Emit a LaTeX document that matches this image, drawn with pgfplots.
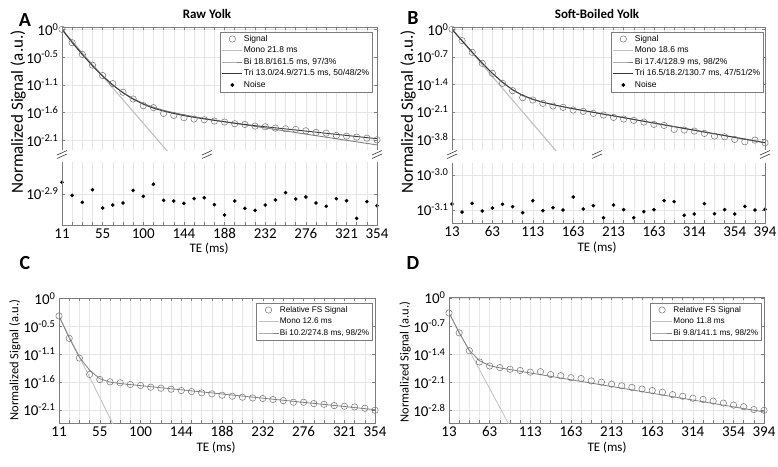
\documentclass[border=0pt]{standalone}
\usepackage{fontspec}
\setmainfont{Carlito}
\newfontfamily\legfont{Liberation Sans}
\usepackage{pgfplots}
\pgfplotsset{compat=1.18}
\definecolor{gridc}{RGB}{230,230,230}
\definecolor{axc}{RGB}{125,125,125}
\definecolor{monoc}{RGB}{192,192,192}
\definecolor{bic}{RGB}{128,128,128}
\definecolor{tric}{RGB}{55,55,55}
\definecolor{sigc}{RGB}{115,115,115}

\pgfplotsset{
  base/.style={
    scale only axis,
    xmin=1, xmax=32,
    xtick={1,5,9,13,17,21,25,29,32},
    minor xtick={1,...,32},
    xmajorgrids, xminorgrids, ymajorgrids,
    major grid style={gridc, line width=0.5pt},
    minor grid style={gridc, line width=0.5pt},
    axis line style={axc, line width=0.6pt},
    tick style={axc, line width=0.5pt},
    major tick length=3pt, minor tick length=3pt,
    tick label style={font=\fontsize{15}{15}\selectfont},
    legend cell align=left,
    legend style={font=\legfont\fontsize{8.5}{9}\selectfont, draw=axc, line width=0.5pt,
      fill=white, inner sep=1.5pt, row sep=1pt,
      nodes={inner sep=1pt, text height=6.5pt, text depth=2pt}},
    legend image code/.code={\draw[mark repeat=2,mark phase=2,##1] plot coordinates {(0pt,0pt) (10pt,0pt) (20pt,0pt)};},
  },
  sig/.style={only marks, mark=o, mark size=3.2pt, mark options={draw=sigc, line width=0.5pt}},
  noise/.style={only marks, mark=*, mark size=1.6pt, mark options={fill=black, draw=black}},
  mono/.style={monoc, line width=1.1pt, no marks},
  bi/.style={bic, line width=0.9pt, no marks},
  tri/.style={tric, line width=0.9pt, no marks},
}
\newcommand{\brk}[2]{%
  \draw[tric, line width=0.6pt] (#1-5pt,#2-1pt) -- (#1+5pt,#2+3.5pt);
  \draw[tric, line width=0.6pt] (#1-5pt,#2-4.5pt) -- (#1+5pt,#2);}

\begin{document}
\begin{tikzpicture}
\path[use as bounding box] (0pt,0pt) rectangle (778pt,-466pt);

% ===== Panel A: upper =====
\begin{axis}[base, name=A1, at={(62pt,-27pt)}, anchor=north west,
  width=315pt, height=123pt, ymin=-2.28, ymax=0.044,
  xtick pos=right, xticklabels={},
  axis line style={draw=none},
  ytick={0,-0.525,-1.05,-1.575,-2.1},
  yticklabels={10\textsuperscript{0},10\textsuperscript{-0.5},10\textsuperscript{-1.1},10\textsuperscript{-1.6},10\textsuperscript{-2.1}},
  legend style={at={(1,1)}, anchor=north east, xshift=-5pt, yshift=-5pt}]
\addplot[sig] coordinates {
 (1,0) (2,-0.253) (3,-0.474) (4,-0.677) (5,-0.873) (6,-1.025) (7,-1.189) (8,-1.316)
 (9,-1.442) (10,-1.480) (11,-1.588) (12,-1.626) (13,-1.670) (14,-1.695) (15,-1.708) (16,-1.733)
 (17,-1.752) (18,-1.784) (19,-1.797) (20,-1.828) (21,-1.841) (22,-1.866) (23,-1.879) (24,-1.891)
 (25,-1.917) (26,-1.948) (27,-1.961) (28,-2.005) (29,-2.018) (30,-2.037) (31,-2.056) (32,-2.087)};
\addlegendentry{Signal}
\addplot[mono] coordinates {(1,0) (12,-2.44)};
\addlegendentry{Mono 21.8 ms}
\addplot[bi] coordinates {
 (1,0) (2,-0.236) (3,-0.464) (4,-0.679) (5,-0.876) (6,-1.049) (7,-1.194) (8,-1.311)
 (9,-1.402) (10,-1.473) (11,-1.530) (12,-1.576) (13,-1.615) (14,-1.651) (15,-1.684) (16,-1.715)
 (17,-1.745) (18,-1.775) (19,-1.805) (20,-1.834) (21,-1.863) (22,-1.892) (23,-1.921) (24,-1.951)
 (25,-1.980) (26,-2.009) (27,-2.038) (28,-2.067) (29,-2.096) (30,-2.126) (31,-2.155) (32,-2.184)};
\addlegendentry{Bi 18.8/161.5 ms, 97/3\%}
\addplot[tri] coordinates {
 (1,0) (2,-0.250) (3,-0.478) (4,-0.690) (5,-0.885) (6,-1.055) (7,-1.200) (8,-1.320)
 (9,-1.415) (10,-1.490) (11,-1.545) (12,-1.590) (13,-1.630) (14,-1.663) (15,-1.693) (16,-1.720)
 (17,-1.747) (18,-1.773) (19,-1.797) (20,-1.820) (21,-1.841) (22,-1.861) (23,-1.882) (24,-1.902)
 (25,-1.923) (26,-1.943) (27,-1.964) (28,-1.984) (29,-2.005) (30,-2.025) (31,-2.046) (32,-2.066)};
\addlegendentry{Tri 13.0/24.9/271.5 ms, 50/48/2\%}
\addlegendimage{noise}
\addlegendentry{Noise}
\end{axis}

% ===== Panel A: noise =====
\begin{axis}[base, name=A2, at={(62pt,-162pt)}, anchor=north west,
  width=315pt, height=63pt, ymin=-2.9886, ymax=-2.8086,
  xtick pos=left, axis line style={draw=none},
  xticklabels={11,55,100,144,188,232,276,321,354},
  ytick={-2.9}, yticklabels={10\textsuperscript{-2.9}}]
\addplot[noise] coordinates {
 (1,-2.8667) (2,-2.9038) (3,-2.9238) (4,-2.8876) (5,-2.9400) (6,-2.9314) (7,-2.9257) (8,-2.8895)
 (9,-2.9067) (10,-2.8724) (11,-2.9181) (12,-2.9200) (13,-2.9267) (14,-2.9133) (15,-2.9105) (16,-2.9305)
 (17,-2.9600) (18,-2.9200) (19,-2.9410) (20,-2.9467) (21,-2.9314) (22,-2.9171) (23,-2.8962) (24,-2.9143)
 (25,-2.9086) (26,-2.9257) (27,-2.9352) (28,-2.9133) (29,-2.9190) (30,-2.9695) (31,-2.9219) (32,-2.9333)};
\end{axis}
\draw[axc, line width=0.6pt] (A1.south west) -- (A1.north west) -- (A1.north east) -- (A1.south east);
\draw[axc, line width=0.6pt] (A2.north west) -- (A2.south west) -- (A2.south east) -- (A2.north east);
\brk{62pt}{-154pt}\brk{207pt}{-154pt}\brk{377pt}{-154pt}

% ===== Panel B: upper =====
\begin{axis}[base, name=B1, at={(452pt,-27pt)}, anchor=north west,
  width=313pt, height=123pt, ymin=-3.07, ymax=0.059,
  xtick pos=right, xticklabels={},
  axis line style={draw=none},
  ytick={0,-0.7,-1.4,-2.1,-2.8},
  yticklabels={10\textsuperscript{0},10\textsuperscript{-0.7},10\textsuperscript{-1.4},10\textsuperscript{-2.1},10\textsuperscript{-3.8}},
  legend style={at={(1,1)}, anchor=north east, xshift=-2pt, yshift=-5pt}]
\addplot[sig] coordinates {
 (1,0) (2,-0.288) (3,-0.585) (4,-0.865) (5,-1.120) (6,-1.374) (7,-1.561) (8,-1.739)
 (9,-1.799) (10,-1.884) (11,-1.952) (12,-1.985) (13,-2.053) (14,-2.087) (15,-2.138) (16,-2.180)
 (17,-2.240) (18,-2.282) (19,-2.316) (20,-2.359) (21,-2.418) (22,-2.444) (23,-2.546) (24,-2.563)
 (25,-2.588) (26,-2.648) (27,-2.716) (28,-2.733) (29,-2.801) (30,-2.860) (31,-2.818) (32,-2.885)};
\addlegendentry{Signal}
\addplot[mono] coordinates {(1,0) (12,-3.30)};
\addlegendentry{Mono 18.6 ms}
\addplot[bi] coordinates {
 (1,0) (2,-0.290) (3,-0.580) (4,-0.860) (5,-1.120) (6,-1.350) (7,-1.540) (8,-1.680)
 (9,-1.780) (10,-1.855) (11,-1.915) (12,-1.970) (13,-2.020) (14,-2.066) (15,-2.111) (16,-2.157)
 (17,-2.202) (18,-2.248) (19,-2.293) (20,-2.339) (21,-2.384) (22,-2.430) (23,-2.475) (24,-2.521)
 (25,-2.566) (26,-2.612) (27,-2.657) (28,-2.703) (29,-2.748) (30,-2.794) (31,-2.839) (32,-2.885)};
\addlegendentry{Bi 17.4/128.9 ms, 98/2\%}
\addplot[tri] coordinates {
 (1,0) (2,-0.292) (3,-0.583) (4,-0.862) (5,-1.120) (6,-1.348) (7,-1.538) (8,-1.680)
 (9,-1.782) (10,-1.857) (11,-1.917) (12,-1.971) (13,-2.020) (14,-2.066) (15,-2.111) (16,-2.157)
 (17,-2.202) (18,-2.248) (19,-2.293) (20,-2.339) (21,-2.384) (22,-2.430) (23,-2.475) (24,-2.521)
 (25,-2.566) (26,-2.612) (27,-2.657) (28,-2.703) (29,-2.748) (30,-2.794) (31,-2.839) (32,-2.885)};
\addlegendentry{Tri 16.5/18.2/130.7 ms, 47/51/2\%}
\addlegendimage{noise}
\addlegendentry{Noise}
\end{axis}

% ===== Panel B: noise =====
\begin{axis}[base, name=B2, at={(452pt,-163pt)}, anchor=north west,
  width=313pt, height=60pt, ymin=-3.137, ymax=-2.966,
  xtick pos=left, axis line style={draw=none},
  xticklabels={13,63,113,163,213,163,314,354,394},
  ytick={-3.0,-3.1}, yticklabels={10\textsuperscript{-3.0},10\textsuperscript{-3.1}}]
\addplot[noise] coordinates {
 (1,-3.0829) (2,-3.1057) (3,-3.0810) (4,-3.1029) (5,-3.0943) (6,-3.0838) (7,-3.0905) (8,-3.1076)
 (9,-3.0733) (10,-3.1019) (11,-3.0933) (12,-3.1000) (13,-3.0629) (14,-3.0971) (15,-3.0876) (16,-3.1219)
 (17,-3.0857) (18,-3.0990) (19,-3.1219) (20,-3.1048) (21,-3.0990) (22,-3.0733) (23,-3.0762) (24,-3.1152)
 (25,-3.1114) (26,-3.0819) (27,-3.1105) (28,-3.0990) (29,-3.1114) (30,-3.0895) (31,-3.1000) (32,-3.0981)};
\end{axis}
\draw[axc, line width=0.6pt] (B1.south west) -- (B1.north west) -- (B1.north east) -- (B1.south east);
\draw[axc, line width=0.6pt] (B2.north west) -- (B2.south west) -- (B2.south east) -- (B2.north east);
\brk{452pt}{-154pt}\brk{597pt}{-154pt}\brk{765pt}{-154pt}

% ===== Panel C =====
\begin{axis}[base, name=C, at={(59pt,-298pt)}, anchor=north west,
  width=316pt, height=125pt, ymin=-2.346, ymax=0.01,
  xticklabels={11,55,100,144,188,232,276,321,354},
  ytick={0,-0.525,-1.05,-1.575,-2.1},
  yticklabels={10\textsuperscript{0},10\textsuperscript{-0.5},10\textsuperscript{-1.1},10\textsuperscript{-1.6},10\textsuperscript{-2.1}},
  legend style={at={(1,1)}, anchor=north east, xshift=-3pt, yshift=-5pt,
    font=\legfont\fontsize{8.2}{9}\selectfont}]
\addplot[sig] coordinates {
 (1,-0.328) (2,-0.750) (3,-1.122) (4,-1.431) (5,-1.526) (6,-1.570) (7,-1.589) (8,-1.620)
 (9,-1.639) (10,-1.671) (11,-1.690) (12,-1.709) (13,-1.734) (14,-1.753) (15,-1.778) (16,-1.797)
 (17,-1.822) (18,-1.841) (19,-1.860) (20,-1.873) (21,-1.885) (22,-1.904) (23,-1.923) (24,-1.955)
 (25,-1.955) (26,-1.980) (27,-1.993) (28,-2.018) (29,-2.030) (30,-2.043) (31,-2.068) (32,-2.106)};
\addlegendentry{Relative FS Signal}
\addplot[mono, line width=0.8pt] coordinates {(1,-0.328) (7,-2.638)};
\addlegendentry{Mono 12.6 ms}
\addplot[bi, line width=0.8pt] coordinates {
 (1,-0.328) (2,-0.745) (3,-1.105) (4,-1.350) (5,-1.510) (6,-1.575) (7,-1.602) (8,-1.622)
 (9,-1.641) (10,-1.661) (11,-1.681) (12,-1.701) (13,-1.720) (14,-1.740) (15,-1.760) (16,-1.779)
 (17,-1.799) (18,-1.819) (19,-1.838) (20,-1.858) (21,-1.878) (22,-1.898) (23,-1.917) (24,-1.937)
 (25,-1.957) (26,-1.976) (27,-1.996) (28,-2.016) (29,-2.035) (30,-2.055) (31,-2.075) (32,-2.095)};
\addlegendentry{Bi 10.2/274.8 ms, 98/2\%}
\end{axis}

% ===== Panel D =====
\begin{axis}[base, name=D, at={(449pt,-297pt)}, anchor=north west,
  width=315pt, height=126pt, ymin=-3.105, ymax=0.025,
  xticklabels={13,63,113,163,213,163,314,354,394},
  ytick={0,-0.7,-1.4,-2.1,-2.8},
  yticklabels={10\textsuperscript{0},10\textsuperscript{-0.7},10\textsuperscript{-1.4},10\textsuperscript{-2.1},10\textsuperscript{-2.8}},
  legend style={at={(1,1)}, anchor=north east, xshift=-3pt, yshift=-6pt,
    font=\legfont\fontsize{8.2}{9}\selectfont}]
\addplot[sig] coordinates {
 (1,-0.371) (2,-0.865) (3,-1.309) (4,-1.589) (5,-1.688) (6,-1.729) (7,-1.770) (8,-1.800)
 (9,-1.840) (10,-1.830) (11,-1.900) (12,-1.930) (13,-1.980) (14,-2.000) (15,-2.060) (16,-2.090)
 (17,-2.140) (18,-2.180) (19,-2.220) (20,-2.260) (21,-2.300) (22,-2.340) (23,-2.400) (24,-2.440)
 (25,-2.490) (26,-2.520) (27,-2.560) (28,-2.610) (29,-2.660) (30,-2.700) (31,-2.770) (32,-2.790)};
\addlegendentry{Relative FS Signal}
\addplot[mono, line width=0.8pt] coordinates {(1,-0.371) (8,-3.661)};
\addlegendentry{Mono 11.8 ms}
\addplot[bi, line width=0.8pt] coordinates {
 (1,-0.371) (2,-0.865) (3,-1.300) (4,-1.560) (5,-1.680) (6,-1.735) (7,-1.777) (8,-1.819)
 (9,-1.861) (10,-1.903) (11,-1.946) (12,-1.988) (13,-2.030) (14,-2.072) (15,-2.114) (16,-2.156)
 (17,-2.198) (18,-2.240) (19,-2.282) (20,-2.325) (21,-2.367) (22,-2.409) (23,-2.451) (24,-2.493)
 (25,-2.535) (26,-2.577) (27,-2.619) (28,-2.661) (29,-2.704) (30,-2.746) (31,-2.788) (32,-2.830)};
\addlegendentry{Bi 9.8/141.1 ms, 98/2\%}
\end{axis}

% ===== Labels =====
\node[font=\fontsize{20}{20}\selectfont\bfseries] at (25pt,-20pt) {A};
\node[font=\fontsize{20}{20}\selectfont\bfseries] at (413pt,-18pt) {B};
\node[font=\fontsize{20}{20}\selectfont\bfseries] at (25pt,-263pt) {C};
\node[font=\fontsize{20}{20}\selectfont\bfseries] at (413pt,-263pt) {D};
\node[font=\fontsize{13}{13}\selectfont\bfseries] at (207pt,-14pt) {Raw Yolk};
\node[font=\fontsize{13}{13}\selectfont\bfseries] at (597pt,-14pt) {Soft-Boiled Yolk};
\node[font=\fontsize{17}{17}\selectfont, rotate=90] at (18pt,-112pt) {Normalized Signal (a.u.)};
\node[font=\fontsize{17}{17}\selectfont, rotate=90] at (408pt,-112pt) {Normalized Signal (a.u.)};
\node[font=\fontsize{12.5}{12.5}\selectfont, rotate=90] at (15pt,-360pt) {Normalized Signal (a.u.)};
\node[font=\fontsize{12.5}{12.5}\selectfont, rotate=90] at (405pt,-362pt) {Normalized Signal (a.u.)};
\node[font=\fontsize{13}{13}\selectfont] at (209pt,-249pt) {TE (ms)};
\node[font=\fontsize{13}{13}\selectfont] at (597pt,-248pt) {TE (ms)};
\node[font=\fontsize{13}{13}\selectfont] at (216pt,-448pt) {TE (ms)};
\node[font=\fontsize{13}{13}\selectfont] at (607pt,-448pt) {TE (ms)};
\end{tikzpicture}
\end{document}
